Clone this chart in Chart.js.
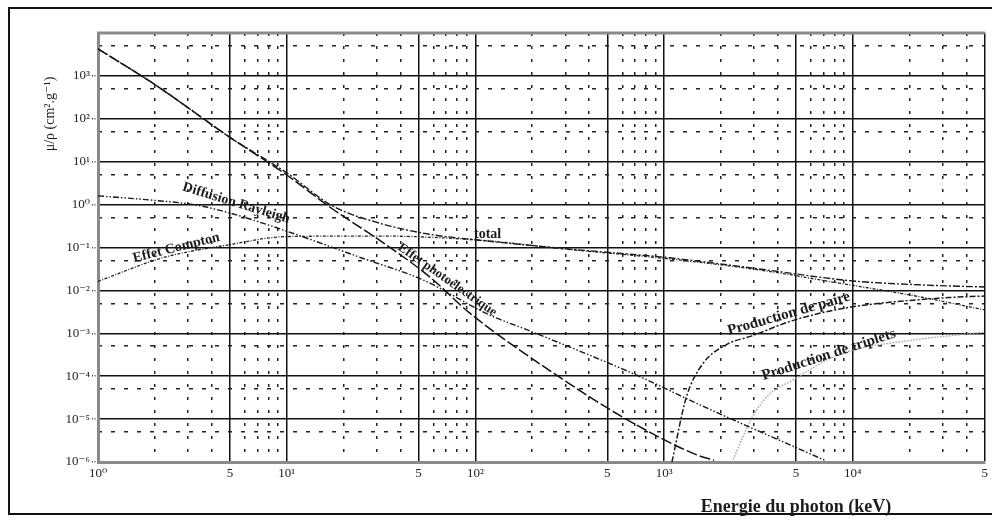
<!DOCTYPE html>
<html>
<head>
<meta charset="utf-8">
<script src="https://cdn.jsdelivr.net/npm/chart.js@4.4.1/dist/chart.umd.min.js"></script>
<style>
  html, body { margin: 0; padding: 0; background: #fff; overflow: hidden; }
  #wrap { position: relative; width: 992px; height: 520px; }
  #frame { position: absolute; left: 8px; top: 7px; width: 1000px; height: 508px;
           border: 2px solid #111; box-sizing: border-box; }
  canvas { position: absolute; left: 0; top: 0; }
</style>
</head>
<body>
<div id="wrap">
  <div id="frame"></div>
  <canvas id="attChart" width="992" height="520"></canvas>
</div>
<script>
// energies in keV, mass attenuation in cm2/g
var totalE  = [1, 2, 5, 10, 17.5, 31, 57, 105, 306, 1070, 3190, 10000, 22300, 50000];
var totalMu = [4270, 630, 37, 5.5, 0.93, 0.37, 0.204, 0.148, 0.093, 0.0575, 0.0316, 0.0166, 0.0135, 0.012];

var photoE  = [1, 2, 5, 10, 17.5, 31, 57, 93, 268, 677, 1530, 1840];
var photoMu = [4270, 630, 37, 4.9, 0.79, 0.148, 0.021, 0.003, 1.07e-4, 8.3e-6, 1.4e-6, 1.1e-6];

var rayleighE  = [1, 2, 3.3, 5.1, 10, 25, 53, 118, 193, 711, 1530, 7200];
var rayleighMu = [1.6, 1.25, 0.98, 0.62, 0.24, 0.057, 0.0174, 0.0027, 0.00115, 1.07e-4, 2.2e-5, 1.07e-6];

var comptonE  = [1, 2.2, 4.9, 10, 31, 105, 306, 1070, 3190, 8430, 21500, 50000];
var comptonMu = [0.0162, 0.0575, 0.115, 0.18, 0.185, 0.148, 0.091, 0.054, 0.030, 0.0148, 0.0074, 0.0035];

var pairE  = [1100, 1310, 1590, 2130, 2920, 4750, 9190, 32200, 50000];
var pairMu = [1e-6, 3.2e-5, 1.86e-4, 5.4e-4, 8.7e-4, 1.95e-3, 3.9e-3, 6.8e-3, 7.4e-3];

var tripletE  = [2290, 2920, 3590, 4750, 8430, 21500, 32200, 50000];
var tripletMu = [1e-6, 1.07e-5, 3.7e-5, 7.9e-5, 3.2e-4, 7.1e-4, 8.7e-4, 1.07e-3];

// axis ticks
var xMajor = [1, 5, 10, 50, 100, 500, 1000, 5000, 10000, 50000];
var xMinor = [2, 3, 4, 6, 7, 8, 9, 20, 30, 40, 60, 70, 80, 90, 200, 300, 400, 600, 700, 800, 900,
              2000, 3000, 4000, 6000, 7000, 8000, 9000, 20000, 30000, 40000];
var yMajor = [1e-6, 1e-5, 1e-4, 1e-3, 1e-2, 1e-1, 1, 10, 100, 1000, 10000];
var yMinor = [5e-6, 5e-5, 5e-4, 5e-3, 5e-2, 5e-1, 5, 50, 500, 5000];

// labels written along the curves
var curveLabels = [
  { text: 'Diffusion Rayleigh', e: 5.4, mu: 1.08, rot: 17, size: 14 },
  { text: 'Effet Compton', e: 2.6, mu: 0.098, rot: -14, size: 14 },
  { text: 'total', e: 116, mu: 0.206, rot: 0, size: 14 },
  { text: 'Effet photoélectrique', e: 71, mu: 0.0175, rot: 35, size: 13 },
  { text: 'Production de paire', e: 4580, mu: 0.00284, rot: -16, size: 15 },
  { text: 'Production de triplets', e: 7460, mu: 0.000316, rot: -18, size: 15 }
];

var SERIF = '"Liberation Serif", "DejaVu Serif", serif';
var SUP = { '0': '⁰', '1': '¹', '2': '²', '3': '³', '4': '⁴', '5': '⁵', '6': '⁶', '-': '⁻' };

function powLabel(v) {
  var l = Math.log10(v), e = Math.round(l);
  if (Math.abs(l - e) < 1e-6) {
    return '10' + String(e).split('').map(function (c) { return SUP[c]; }).join('');
  }
  return String(Math.round(v / Math.pow(10, Math.floor(l))));
}

function pts(xs, ys) {
  return xs.map(function (x, i) { return { x: x, y: ys[i] }; });
}

function line(label, xs, ys, color, width, dash) {
  return {
    label: label, data: pts(xs, ys), showLine: true, fill: false,
    borderColor: color, borderWidth: width, borderDash: dash,
    pointRadius: 0, cubicInterpolationMode: 'monotone'
  };
}

var textPlugin = {
  id: 'curveText',
  afterDraw: function (chart) {
    var ctx = chart.ctx, xs = chart.scales.x, ys = chart.scales.y, a = chart.chartArea;
    ctx.save();
    ctx.strokeStyle = '#8a8a8a';
    ctx.lineWidth = 3;
    ctx.beginPath();
    ctx.moveTo(a.left - 1, a.top);
    ctx.lineTo(a.right, a.top);
    ctx.stroke();

    ctx.fillStyle = '#1c1c1c';
    ctx.textAlign = 'center';
    ctx.textBaseline = 'middle';
    curveLabels.forEach(function (l) {
      ctx.save();
      ctx.translate(xs.getPixelForValue(l.e), ys.getPixelForValue(l.mu));
      ctx.rotate(l.rot * Math.PI / 180);
      ctx.font = 'bold ' + l.size + 'px ' + SERIF;
      ctx.fillText(l.text, 0, 0);
      ctx.restore();
    });

    // axis titles
    ctx.font = 'bold 18px ' + SERIF;
    ctx.fillText('Energie du photon (keV)', xs.getPixelForValue(5000), a.bottom + 45);
    ctx.save();
    ctx.translate(50, 114);
    ctx.rotate(-Math.PI / 2);
    ctx.font = '14px ' + SERIF;
    ctx.fillText('μ/ρ (cm².g⁻¹)', 0, 0);
    ctx.restore();
    ctx.restore();
  }
};

new Chart(document.getElementById('attChart').getContext('2d'), {
  type: 'scatter',
  data: {
    datasets: [
      line('total', totalE, totalMu, '#1a1a1a', 1.4, [7, 2, 2, 2]),
      line('photo', photoE, photoMu, '#111', 1.5, [11, 3]),
      line('rayleigh', rayleighE, rayleighMu, '#1a1a1a', 1.4, [6, 2, 1.5, 2, 1.5, 2]),
      line('compton', comptonE, comptonMu, '#222', 1.3, [3, 1.5, 1, 1.5]),
      line('paire', pairE, pairMu, '#1a1a1a', 1.5, [6, 2, 2, 2]),
      line('triplets', tripletE, tripletMu, '#a0a0a0', 1.4, [1.5, 1.5])
    ]
  },
  options: {
    responsive: false,
    animation: false,
    events: [],
    layout: { padding: { top: 33, right: 2, left: 0, bottom: 0 } },
    plugins: { legend: { display: false }, tooltip: { enabled: false } },
    scales: {
      x: {
        type: 'logarithmic', position: 'bottom', min: 1, max: 50000,
        afterBuildTicks: function (s) { s.ticks = xMajor.map(function (v) { return { value: v }; }); },
        afterFit: function (s) { s.height = 58; },
        ticks: { autoSkip: false, maxRotation: 0, padding: 4, color: '#222',
                 font: { family: SERIF, size: 13 }, callback: powLabel },
        grid: { color: '#111', lineWidth: 1.5, drawTicks: false },
        border: { display: true, color: '#8a8a8a', width: 3 }
      },
      x2: {
        type: 'logarithmic', position: 'bottom', min: 1, max: 50000,
        afterBuildTicks: function (s) { s.ticks = xMinor.map(function (v) { return { value: v }; }); },
        afterFit: function (s) { s.height = 0; },
        ticks: { display: false },
        grid: { color: '#222', lineWidth: 1.5, drawTicks: false },
        border: { display: false, dash: [3, 10] }
      },
      y: {
        type: 'logarithmic', position: 'left', min: 1e-6, max: 1e4,
        afterBuildTicks: function (s) { s.ticks = yMajor.map(function (v) { return { value: v }; }); },
        afterFit: function (s) { s.width = 98; },
        ticks: { autoSkip: false, padding: 2, color: '#222', font: { family: SERIF, size: 13 },
                 callback: function (v) { return v >= 1e4 ? '' : powLabel(v); } },
        grid: {
          color: '#111', lineWidth: 1.5, tickLength: 6, tickBorderDash: [1, 1.5],
          tickColor: function (c) { return c.tick && c.tick.value >= 1e4 ? 'rgba(0,0,0,0)' : '#444'; }
        },
        border: { display: true, color: '#8a8a8a', width: 3 }
      },
      y2: {
        type: 'logarithmic', position: 'left', min: 1e-6, max: 1e4,
        afterBuildTicks: function (s) { s.ticks = yMinor.map(function (v) { return { value: v }; }); },
        afterFit: function (s) { s.width = 0; },
        ticks: { display: false },
        grid: { color: '#222', lineWidth: 1.5, drawTicks: false },
        border: { display: false, dash: [4, 9] }
      }
    }
  },
  plugins: [textPlugin]
});
</script>
</body>
</html>
